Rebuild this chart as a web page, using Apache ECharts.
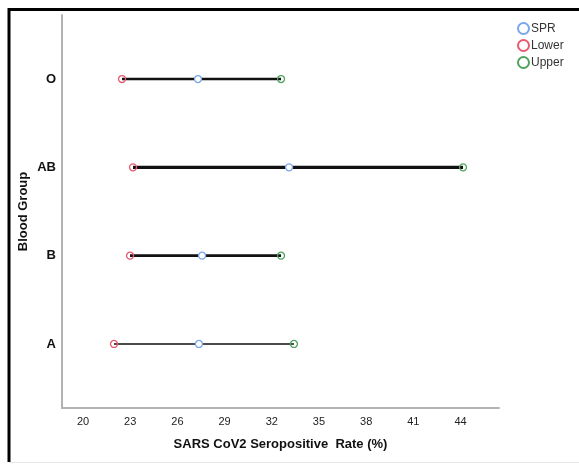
<!DOCTYPE html>
<html>
<head>
<meta charset="utf-8">
<script src="https://cdn.jsdelivr.net/npm/echarts@6/dist/echarts.min.js"></script>
<style>html,body{margin:0;padding:0;background:#fff;}#c{width:579px;height:466px;}</style>
</head>
<body>
<div id="c"></div>
<script>
// Data
const groups = ['A', 'B', 'AB', 'O'];
const spr   = [27.37, 27.57, 33.10, 27.31];
const lower = [21.97, 22.99, 23.18, 22.48];
const upper = [33.41, 32.59, 44.16, 32.59];
const xTicks = [20, 23, 26, 29, 32, 35, 38, 41, 44];
const groupIdx = [0, 1, 2, 3];

// Styles
const lineWidths = [1.6, 2.6, 3.4, 2.6];
const colSPR = '#7aa6ea', colLow = '#e85a72', colUp = '#4fa35e';

const chart = echarts.init(document.getElementById('c'), null, {renderer: 'canvas'});

const rangeSeries = groups.map((g, i) => ({
  type: 'line',
  name: 'range-' + g,
  data: [[lower[i], groupIdx[i]], [upper[i], groupIdx[i]]],
  symbol: 'none',
  lineStyle: {color: '#111', width: lineWidths[i]},
  z: 2,
  silent: true
}));

function pts(arr) { return arr.map((v, i) => [v, groupIdx[i]]); }

function scatter(name, arr, col, fill) {
  return {
    type: 'scatter', name: name, data: pts(arr),
    symbol: 'circle', symbolSize: 7,
    itemStyle: {color: fill, borderColor: col, borderWidth: 1.3, opacity: 1},
    z: 3
  };
}

chart.setOption({
  animation: false,
  backgroundColor: '#fff',
  grid: {left: 62, right: 80, top: 15, bottom: 58},
  legend: {
    data: ['SPR', 'Lower', 'Upper'],
    orient: 'vertical', left: 512, top: 17,
    itemWidth: 11, itemHeight: 11, itemGap: 4,
    icon: 'circle',
    textStyle: {fontFamily: 'Liberation Sans Narrow, Liberation Sans, Arial', fontSize: 12, color: '#333', padding: [0,0,0,-3]}
  },
  xAxis: {
    type: 'value', min: 18.665, max: 46.446,
    axisLine: {show: true, onZero: false, lineStyle: {color: '#b3b3b3', width: 2}},
    axisTick: {show: false},
    splitLine: {show: false},
    axisLabel: {
      customValues: xTicks, margin: 8,
      fontFamily: 'Liberation Sans Narrow, Liberation Sans, Arial', fontSize: 11, color: '#222'
    },
    name: 'SARS CoV2 Seropositive  Rate (%)',
    nameLocation: 'middle', nameGap: 30,
    nameTextStyle: {fontFamily: 'Liberation Sans, Arial', fontWeight: 'bold', fontSize: 13, color: '#111'}
  },
  yAxis: {
    type: 'value', min: -0.725, max: 3.725,
    axisLine: {show: true, onZero: false, lineStyle: {color: '#b3b3b3', width: 2}},
    axisTick: {show: false},
    splitLine: {show: false},
    axisLabel: {
      customValues: groupIdx, margin: 6,
      formatter: v => groups[Math.round(v)],
      fontFamily: 'Liberation Sans, Arial', fontWeight: 'bold', fontSize: 13, color: '#111'
    },
    name: 'Blood Group',
    nameLocation: 'middle', nameRotate: 90, nameGap: 32, nameMoveOverlap: false,
    nameTextStyle: {fontFamily: 'Liberation Sans, Arial', fontWeight: 'bold', fontSize: 13, color: '#111'}
  },
  graphic: [
    {type: 'line', shape: {x1: 8, y1: 9.5, x2: 579, y2: 9.5}, style: {stroke: '#000', lineWidth: 3}, z: 100},
    {type: 'line', shape: {x1: 9, y1: 8, x2: 9, y2: 462}, style: {stroke: '#000', lineWidth: 3}, z: 100},
    {type: 'line', shape: {x1: 9, y1: 462.5, x2: 579, y2: 462.5}, style: {stroke: '#e8e8e8', lineWidth: 1}, z: 100}
  ],
  series: rangeSeries.concat([
    scatter('SPR', spr, colSPR, '#ffffff'),
    scatter('Lower', lower, colLow, 'rgba(255,255,255,0)'),
    scatter('Upper', upper, colUp, 'rgba(255,255,255,0)')
  ])
});
</script>
</body>
</html>
